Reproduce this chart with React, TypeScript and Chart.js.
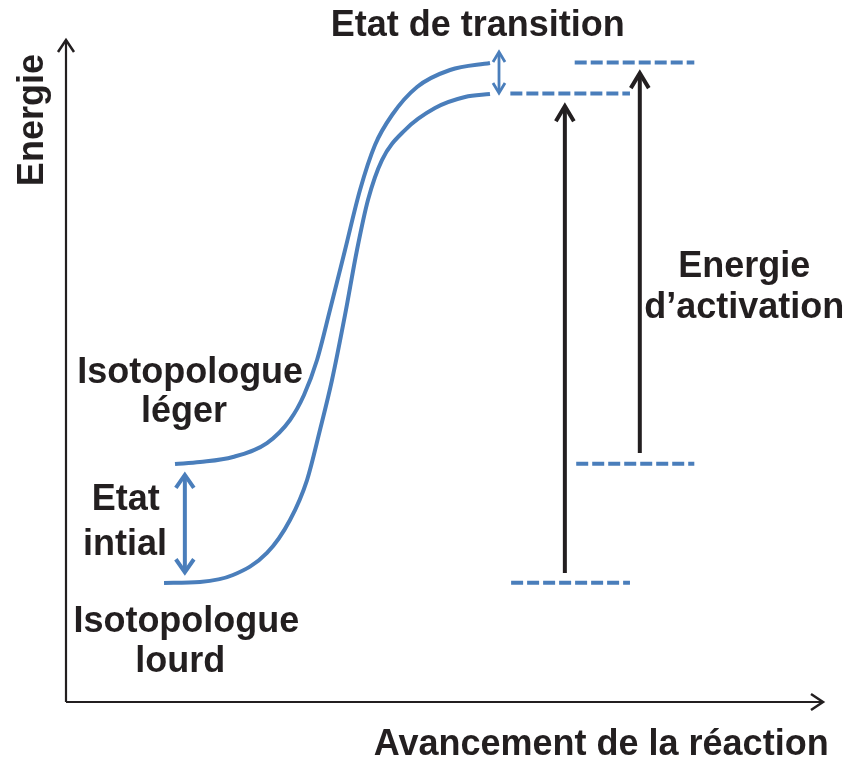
import React, { useEffect, useRef } from "react";
import { Chart, registerables } from "chart.js";

Chart.register(...registerables);

// Reaction coordinate (x) and energy (y) of the two isotopologue curves, arbitrary units
const lightX = [14.40, 17.70, 22.06, 26.55, 29.59, 31.44, 33.16, 34.87, 36.86, 38.84, 40.82, 43.07, 46.37, 50.73, 56.01];
const lightY = [35.95, 36.25, 37.01, 39.12, 42.60, 46.37, 51.66, 59.21, 68.28, 77.34, 84.14, 88.67, 92.90, 95.47, 96.53];
const heavyX = [12.95, 17.70, 22.06, 26.55, 29.59, 31.84, 33.55, 35.14, 36.86, 38.44, 39.89, 41.74, 44.78, 48.75, 52.71, 56.01];
const heavyY = [17.98, 18.13, 19.18, 22.51, 27.49, 33.53, 41.09, 48.64, 58.46, 68.28, 75.83, 81.87, 86.40, 89.73, 91.39, 91.84];

// Dashed energy levels: [xStart, xEnd, energy]
const levelStart = [67.2, 58.7, 67.4, 58.8];
const levelEnd = [83.0, 74.5, 83.0, 74.5];
const levelEnergy = [96.6, 91.9, 36.0, 18.0];

// Activation energy arrows (black, upward)
const actX = [65.9, 75.8];
const actFrom = [19.5, 37.6];
const actTo = [90.0, 95.0];

// Double-headed blue arrows
const dblX = [15.7, 57.2];
const dblLow = [19.6, 92.0];
const dblHigh = [34.3, 98.2];

// Axis extents
const axisXMax = 100;
const axisYMax = 100;

// Text annotations
const labelText = [
  "Etat de transition",
  "Isotopologue",
  "léger",
  "Etat",
  "intial",
  "Isotopologue",
  "lourd",
  "Energie",
  "d\u2019activation",
  "Avancement de la réaction",
];
const labelX = [54.4, 16.4, 15.6, 7.9, 7.8, 15.9, 15.1, 89.6, 89.6, 70.7];
const labelY = [102.1, 49.7, 43.8, 30.5, 23.7, 12.1, 6.0, 65.7, 59.5, -6.5];
const yAxisTitle = "Energie";
const yAxisTitleX = -4.4;
const yAxisTitleY = 87.9;

const BLUE = "#4a7ebb";
const BLACK = "#231f20";
const FONT = "bold 36px 'Liberation Sans', Arial, sans-serif";

function pts(xs: number[], ys: number[]) {
  return xs.map((x, i) => ({ x, y: ys[i] }));
}

function chevron(ctx: CanvasRenderingContext2D, tx: number, ty: number, dir: "up" | "down" | "right", w: number, h: number) {
  ctx.beginPath();
  if (dir === "up") {
    ctx.moveTo(tx - w, ty + h);
    ctx.lineTo(tx, ty);
    ctx.lineTo(tx + w, ty + h);
  } else if (dir === "down") {
    ctx.moveTo(tx - w, ty - h);
    ctx.lineTo(tx, ty);
    ctx.lineTo(tx + w, ty - h);
  } else {
    ctx.moveTo(tx - h, ty - w);
    ctx.lineTo(tx, ty);
    ctx.lineTo(tx - h, ty + w);
  }
  ctx.stroke();
}

const overlay = {
  id: "diagramOverlay",
  afterDatasetsDraw(chart: any) {
    const ctx: CanvasRenderingContext2D = chart.ctx;
    const sx = chart.scales.x;
    const sy = chart.scales.y;
    const px = (v: number) => sx.getPixelForValue(v);
    const py = (v: number) => sy.getPixelForValue(v);
    ctx.save();
    ctx.lineCap = "butt";
    ctx.lineJoin = "miter";

    // axes
    ctx.strokeStyle = BLACK;
    ctx.lineWidth = 2.2;
    const ox = px(0), oy = py(0);
    ctx.beginPath();
    ctx.moveTo(ox, oy);
    ctx.lineTo(ox, py(axisYMax));
    ctx.moveTo(ox, oy);
    ctx.lineTo(px(axisXMax), oy);
    ctx.stroke();
    ctx.lineWidth = 2.5;
    chevron(ctx, ox, py(axisYMax), "up", 8, 12);
    chevron(ctx, px(axisXMax), oy, "right", 8, 12);

    // activation arrows
    ctx.lineWidth = 4;
    for (let i = 0; i < actX.length; i++) {
      const x = px(actX[i]);
      ctx.beginPath();
      ctx.moveTo(x, py(actFrom[i]));
      ctx.lineTo(x, py(actTo[i]) + 2);
      ctx.stroke();
      chevron(ctx, x, py(actTo[i]), "up", 9, 15);
    }

    // double blue arrows
    ctx.strokeStyle = BLUE;
    for (let i = 0; i < dblX.length; i++) {
      const x = px(dblX[i]);
      const small = i === 1;
      ctx.lineWidth = small ? 2.8 : 4;
      ctx.beginPath();
      ctx.moveTo(x, py(dblLow[i]) - 2);
      ctx.lineTo(x, py(dblHigh[i]) + 2);
      ctx.stroke();
      const w = small ? 6 : 9;
      const h = small ? 10 : 13;
      chevron(ctx, x, py(dblHigh[i]), "up", w, h);
      chevron(ctx, x, py(dblLow[i]), "down", w, h);
    }

    // texts
    ctx.fillStyle = BLACK;
    ctx.font = FONT;
    ctx.textAlign = "center";
    ctx.textBaseline = "middle";
    for (let i = 0; i < labelText.length; i++) {
      ctx.fillText(labelText[i], px(labelX[i]), py(labelY[i]));
    }
    ctx.save();
    ctx.translate(px(yAxisTitleX), py(yAxisTitleY));
    ctx.rotate(-Math.PI / 2);
    ctx.fillText(yAxisTitle, 0, 0);
    ctx.restore();

    ctx.restore();
  },
};

export default function App() {
  const ref = useRef<HTMLCanvasElement | null>(null);
  useEffect(() => {
    if (!ref.current) return;
    const levels = levelStart.map((s, i) => ({
      label: "level" + i,
      data: [
        { x: s, y: levelEnergy[i] },
        { x: levelEnd[i], y: levelEnergy[i] },
      ],
      borderColor: BLUE,
      borderWidth: 4,
      borderDash: [12, 4],
      pointRadius: 0,
      tension: 0,
      clip: false as any,
    }));
    const curve = (label: string, xs: number[], ys: number[]) => ({
      label,
      data: pts(xs, ys),
      borderColor: BLUE,
      borderWidth: 4,
      pointRadius: 0,
      cubicInterpolationMode: "monotone",
      clip: false as any,
    });
    const chart = new Chart(ref.current, {
      type: "line",
      data: {
        datasets: [
          curve("Isotopologue léger", lightX, lightY),
          curve("Isotopologue lourd", heavyX, heavyY),
          ...levels,
        ] as any,
      },
      options: {
        animation: false,
        responsive: false,
        layout: { padding: { left: 66, top: 40, right: 25, bottom: 59 } },
        plugins: { legend: { display: false }, tooltip: { enabled: false } },
        events: [],
        scales: {
          x: { type: "linear", min: 0, max: axisXMax, display: false },
          y: { type: "linear", min: 0, max: axisYMax, display: false },
        },
      },
      plugins: [overlay],
    });
    return () => chart.destroy();
  }, []);
  return (
    <div style={{ position: "absolute", left: 0, top: 0, width: 848, height: 761, background: "#fff" }}>
      <canvas ref={ref} width={848} height={761} style={{ display: "block" }} />
    </div>
  );
}
